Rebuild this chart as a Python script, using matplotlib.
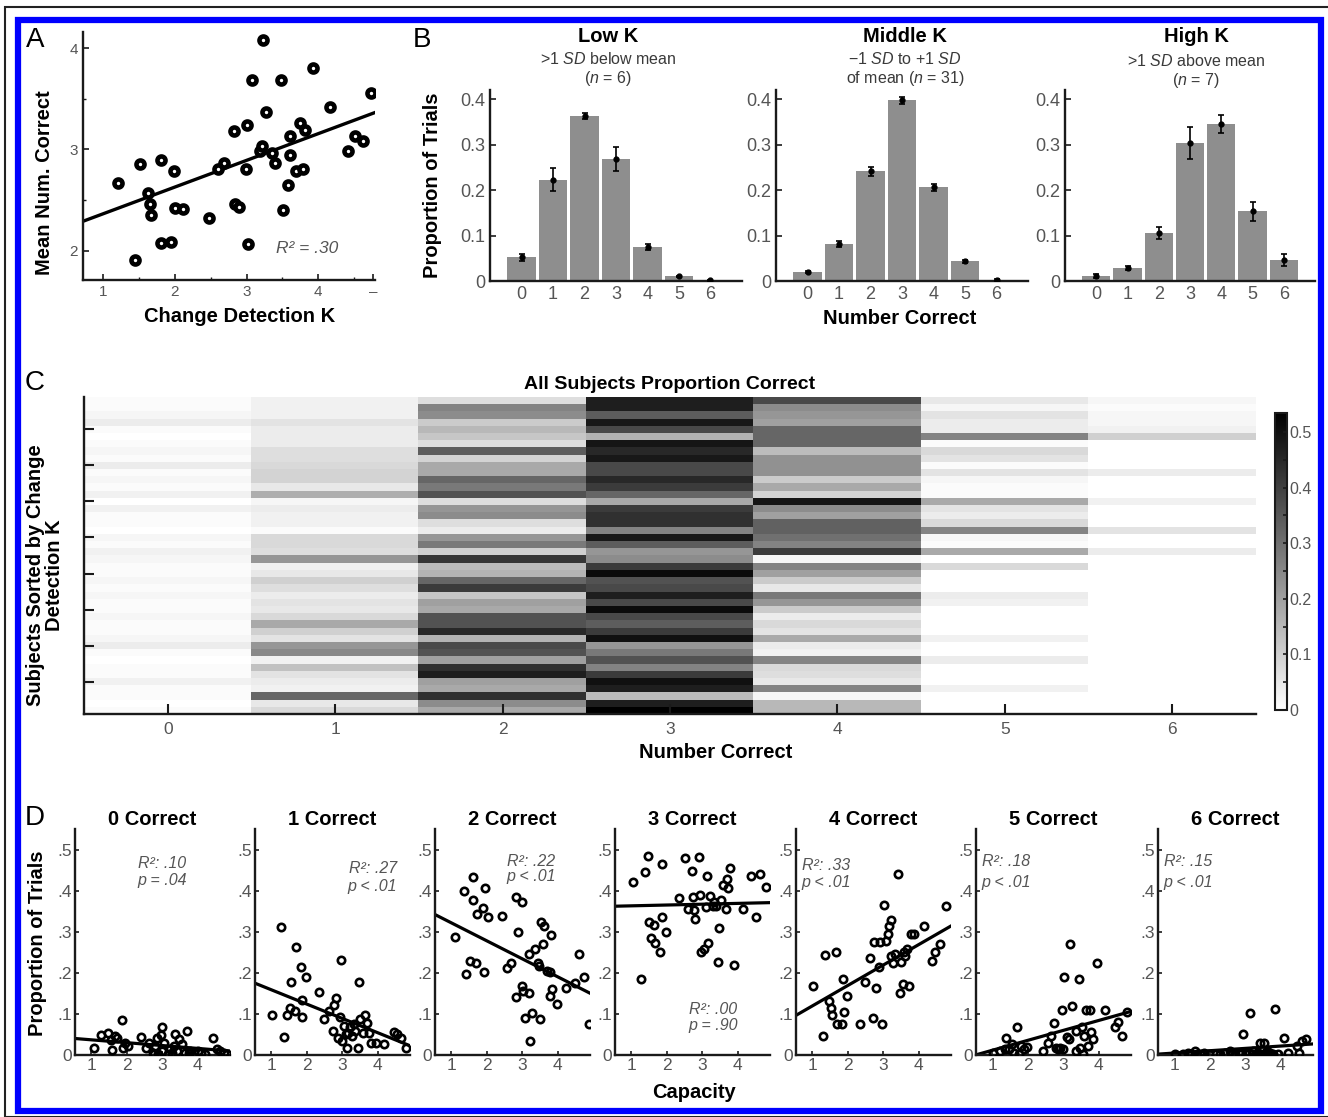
import numpy as np
import matplotlib
matplotlib.use('Agg')
import matplotlib.pyplot as plt
from matplotlib.patches import Rectangle
from matplotlib.ticker import MultipleLocator

# ---------------- data ----------------
# A: change detection K vs mean number correct
k_capacity = [1.21, 1.52, 1.44, 1.63, 1.65, 1.67, 1.81, 1.81, 1.95, 1.99, 2.00, 2.11, 2.47, 2.60, 2.68,
              2.82, 2.84, 2.89, 2.99, 3.00, 3.02, 3.07, 3.19, 3.21, 3.23, 3.27, 3.35, 3.40, 3.48, 3.51,
              3.58, 3.60, 3.60, 3.69, 3.74, 3.78, 3.81, 3.92, 4.16, 4.41, 4.51, 4.62, 4.74]
mean_correct = [2.67, 2.86, 1.91, 2.57, 2.46, 2.35, 2.90, 2.08, 2.09, 2.79, 2.42, 2.41, 2.32, 2.81, 2.87,
                3.18, 2.46, 2.43, 2.81, 3.24, 2.07, 3.69, 2.98, 3.03, 4.08, 3.37, 2.96, 2.87, 3.69, 2.40,
                2.65, 2.94, 3.13, 2.79, 3.26, 2.81, 3.19, 3.80, 3.42, 2.98, 3.13, 3.08, 3.56]
fit_a = (0.264, 2.10)

# B: proportion of trials per number correct, by K group
n_correct = [0, 1, 2, 3, 4, 5, 6]
low_mean = [0.052, 0.223, 0.363, 0.268, 0.075, 0.010, 0.002]
low_err = [0.007, 0.025, 0.007, 0.027, 0.007, 0.002, 0.001]
mid_mean = [0.020, 0.082, 0.241, 0.397, 0.206, 0.043, 0.003]
mid_err = [0.003, 0.007, 0.010, 0.007, 0.007, 0.004, 0.002]
high_mean = [0.011, 0.029, 0.106, 0.304, 0.346, 0.153, 0.047]
high_err = [0.004, 0.004, 0.013, 0.035, 0.020, 0.020, 0.013]

# C: per-subject proportions (rows sorted by K, high at top), one list per number correct
c0 = [0.01, 0.01, 0.02, 0.04, 0.01, 0.00, 0.01, 0.02, 0.01, 0.04, 0.01, 0.02, 0.01, 0.03, 0.00,
      0.03, 0.01, 0.01, 0.00, 0.02, 0.01, 0.03, 0.02, 0.01, 0.01, 0.02, 0.01, 0.02, 0.01, 0.01,
      0.02, 0.01, 0.01, 0.02, 0.04, 0.01, 0.00, 0.01, 0.01, 0.03, 0.01, 0.01, 0.00, 0.01]
c1 = [0.03, 0.03, 0.03, 0.06, 0.04, 0.04, 0.04, 0.07, 0.07, 0.08, 0.09, 0.09, 0.05, 0.17, 0.02,
      0.04, 0.03, 0.03, 0.01, 0.08, 0.08, 0.07, 0.22, 0.03, 0.05, 0.10, 0.07, 0.04, 0.06, 0.05,
      0.08, 0.18, 0.10, 0.06, 0.22, 0.25, 0.03, 0.13, 0.06, 0.04, 0.03, 0.32, 0.05, 0.08]
c2 = [0.07, 0.26, 0.24, 0.11, 0.15, 0.12, 0.07, 0.34, 0.09, 0.18, 0.18, 0.32, 0.28, 0.36, 0.07,
      0.22, 0.24, 0.07, 0.04, 0.22, 0.28, 0.10, 0.42, 0.14, 0.16, 0.32, 0.41, 0.12, 0.20, 0.18,
      0.36, 0.36, 0.45, 0.16, 0.38, 0.36, 0.20, 0.43, 0.47, 0.20, 0.18, 0.43, 0.24, 0.18]
c3 = [0.47, 0.47, 0.34, 0.48, 0.38, 0.16, 0.49, 0.45, 0.48, 0.38, 0.38, 0.45, 0.41, 0.32, 0.18,
      0.41, 0.43, 0.43, 0.26, 0.48, 0.34, 0.22, 0.24, 0.41, 0.51, 0.36, 0.38, 0.47, 0.38, 0.51,
      0.38, 0.34, 0.41, 0.50, 0.22, 0.28, 0.36, 0.26, 0.41, 0.50, 0.47, 0.14, 0.47, 0.53]
c4 = [0.38, 0.24, 0.22, 0.20, 0.32, 0.32, 0.32, 0.14, 0.23, 0.23, 0.23, 0.11, 0.18, 0.09, 0.49,
      0.24, 0.20, 0.33, 0.33, 0.30, 0.26, 0.41, 0.02, 0.26, 0.20, 0.11, 0.05, 0.28, 0.22, 0.11,
      0.04, 0.08, 0.06, 0.18, 0.04, 0.03, 0.26, 0.08, 0.07, 0.05, 0.26, 0.02, 0.15, 0.15]
c5 = [0.05, 0.02, 0.06, 0.04, 0.04, 0.26, 0.01, 0.08, 0.06, 0.01, 0.06, 0.02, 0.01, 0.01, 0.18,
      0.06, 0.04, 0.08, 0.26, 0.02, 0.01, 0.18, 0.00, 0.08, 0.00, 0.00, 0.00, 0.04, 0.03, 0.00,
      0.00, 0.00, 0.00, 0.03, 0.00, 0.00, 0.04, 0.00, 0.00, 0.00, 0.03, 0.00, 0.00, 0.00]
c6 = [0.02, 0.01, 0.02, 0.02, 0.03, 0.10, 0.00, 0.00, 0.00, 0.00, 0.04, 0.00, 0.00, 0.00, 0.03,
      0.00, 0.00, 0.00, 0.06, 0.00, 0.00, 0.04, 0.00, 0.00, 0.00, 0.00, 0.00, 0.00, 0.00, 0.00,
      0.00, 0.00, 0.00, 0.00, 0.00, 0.00, 0.00, 0.00, 0.00, 0.00, 0.00, 0.00, 0.00, 0.00]

# D: capacity vs proportion of trials, one panel per number correct
d0_k = [1.08, 1.28, 1.49, 1.55, 1.58, 1.66, 1.74, 1.87, 1.89, 1.95, 2.05, 2.40, 2.53, 2.63, 2.74,
        2.79, 2.84, 2.95, 2.98, 3.00, 3.05, 3.16, 3.21, 3.32, 3.37, 3.42, 3.47, 3.56, 3.68, 3.74,
        3.79, 3.89, 4.00, 4.21, 4.42, 4.53, 4.63, 4.74, 4.82, 2.89, 2.76, 3.26, 3.63, 4.10]
d0_p = [0.018, 0.048, 0.054, 0.037, 0.012, 0.046, 0.042, 0.085, 0.018, 0.030, 0.022, 0.045, 0.018,
        0.030, 0.006, 0.022, 0.042, 0.048, 0.067, 0.010, 0.030, 0.002, 0.014, 0.022, 0.050, 0.010,
        0.038, 0.026, 0.059, 0.006, 0.010, 0.006, 0.010, 0.002, 0.042, 0.014, 0.010, 0.006, 0.002,
        0.002, 0.002, 0.006, 0.006, 0.006]
d1_k = [1.03, 1.28, 1.35, 1.46, 1.53, 1.56, 1.67, 1.70, 1.83, 1.86, 1.88, 1.97, 2.36, 2.50, 2.63,
        2.73, 2.76, 2.82, 2.89, 2.93, 2.95, 3.00, 3.05, 3.13, 3.16, 3.21, 3.27, 3.32, 3.37, 3.43,
        3.46, 3.51, 3.59, 3.64, 3.69, 3.75, 3.80, 3.94, 4.17, 4.44, 4.54, 4.65, 4.79, 3.09]
d1_p = [0.097, 0.311, 0.045, 0.097, 0.115, 0.178, 0.107, 0.264, 0.213, 0.093, 0.134, 0.189, 0.154,
        0.087, 0.107, 0.059, 0.121, 0.138, 0.042, 0.093, 0.232, 0.034, 0.071, 0.018, 0.054, 0.067,
        0.046, 0.075, 0.059, 0.018, 0.178, 0.087, 0.054, 0.097, 0.079, 0.054, 0.030, 0.030, 0.026,
        0.056, 0.050, 0.042, 0.018, 0.050]
d2_k = [1.11, 1.36, 1.43, 1.53, 1.61, 1.63, 1.71, 1.74, 1.89, 1.92, 1.95, 2.03, 2.42, 2.56, 2.67,
        2.81, 2.83, 2.88, 2.98, 2.98, 3.02, 3.07, 3.18, 3.20, 3.23, 3.28, 3.36, 3.44, 3.49, 3.52,
        3.57, 3.60, 3.68, 3.77, 3.79, 3.81, 3.84, 3.98, 4.23, 4.48, 4.59, 4.73, 4.86, 3.46]
d2_p = [0.286, 0.398, 0.197, 0.229, 0.434, 0.378, 0.225, 0.343, 0.357, 0.201, 0.406, 0.335, 0.339,
        0.211, 0.224, 0.140, 0.384, 0.300, 0.372, 0.168, 0.156, 0.091, 0.246, 0.152, 0.034, 0.103,
        0.259, 0.225, 0.087, 0.323, 0.270, 0.313, 0.205, 0.202, 0.144, 0.292, 0.160, 0.125, 0.164,
        0.176, 0.246, 0.191, 0.075, 0.217]
d3_k = [1.05, 1.29, 1.38, 1.49, 1.51, 1.55, 1.64, 1.68, 1.82, 1.86, 1.88, 1.97, 2.34, 2.51, 2.61,
        2.71, 2.74, 2.80, 2.91, 2.94, 2.96, 3.04, 3.11, 3.13, 3.17, 3.22, 3.33, 3.39, 3.43, 3.46,
        3.53, 3.59, 3.66, 3.70, 3.72, 3.79, 3.89, 4.14, 4.38, 4.51, 4.62, 4.78, 3.30, 2.78]
d3_p = [0.422, 0.185, 0.446, 0.484, 0.323, 0.284, 0.316, 0.272, 0.251, 0.465, 0.335, 0.300, 0.381,
        0.480, 0.355, 0.449, 0.384, 0.331, 0.481, 0.389, 0.251, 0.259, 0.359, 0.435, 0.272, 0.386,
        0.373, 0.362, 0.227, 0.308, 0.376, 0.414, 0.355, 0.428, 0.406, 0.454, 0.219, 0.355, 0.435,
        0.337, 0.441, 0.408, 0.363, 0.354]
d4_k = [1.04, 1.30, 1.37, 1.47, 1.53, 1.57, 1.67, 1.70, 1.83, 1.86, 1.89, 1.99, 2.36, 2.49, 2.62,
        2.71, 2.75, 2.79, 2.88, 2.92, 2.95, 3.01, 3.08, 3.14, 3.17, 3.21, 3.28, 3.32, 3.41, 3.47,
        3.51, 3.54, 3.58, 3.67, 3.71, 3.78, 3.87, 4.13, 4.38, 4.45, 4.58, 4.75, 3.61, 3.21]
d4_p = [0.168, 0.046, 0.243, 0.132, 0.115, 0.097, 0.251, 0.075, 0.075, 0.185, 0.105, 0.144, 0.075,
        0.178, 0.235, 0.089, 0.276, 0.162, 0.215, 0.276, 0.075, 0.365, 0.278, 0.294, 0.315, 0.329,
        0.225, 0.246, 0.441, 0.152, 0.227, 0.172, 0.250, 0.258, 0.167, 0.294, 0.294, 0.313, 0.229,
        0.250, 0.270, 0.362, 0.241, 0.241]
d5_k = [1.03, 1.22, 1.36, 1.40, 1.49, 1.55, 1.62, 1.69, 1.75, 1.82, 1.89, 1.98, 2.42, 2.56, 2.65,
        2.73, 2.79, 2.86, 2.91, 2.95, 2.99, 3.02, 3.09, 3.15, 3.19, 3.25, 3.35, 3.44, 3.48, 3.52,
        3.55, 3.59, 3.65, 3.75, 3.79, 3.84, 3.94, 4.18, 4.44, 4.53, 4.66, 4.79, 3.35, 3.68]
d5_p = [0.006, 0.010, 0.015, 0.042, 0.014, 0.026, 0.006, 0.069, 0.002, 0.022, 0.014, 0.020, 0.010,
        0.030, 0.046, 0.079, 0.018, 0.015, 0.018, 0.110, 0.014, 0.189, 0.045, 0.038, 0.270, 0.120,
        0.059, 0.186, 0.018, 0.067, 0.002, 0.046, 0.110, 0.110, 0.056, 0.038, 0.224, 0.110, 0.067,
        0.081, 0.046, 0.105, 0.010, 0.022]
d6_k = [1.04, 1.26, 1.39, 1.48, 1.58, 1.65, 1.74, 1.84, 1.97, 2.30, 2.43, 2.56, 2.62, 2.81, 2.88,
        2.94, 3.03, 3.09, 3.13, 3.18, 3.22, 3.29, 3.35, 3.42, 3.45, 3.52, 3.55, 3.61, 3.65, 3.70,
        3.83, 3.91, 4.09, 4.45, 4.52, 4.58, 4.71, 3.03, 3.58, 2.70, 2.17, 1.45, 3.78, 4.19]
d6_p = [0.002, 0.002, 0.006, 0.002, 0.010, 0.002, 0.002, 0.004, 0.002, 0.002, 0.006, 0.010, 0.002,
        0.006, 0.002, 0.050, 0.002, 0.006, 0.103, 0.002, 0.010, 0.002, 0.006, 0.030, 0.002, 0.030,
        0.002, 0.010, 0.002, 0.006, 0.111, 0.002, 0.042, 0.022, 0.006, 0.034, 0.038, 0.006, 0.006,
        0.002, 0.002, 0.002, 0.002, 0.006]
d_fits = [(-0.007, 0.044), (-0.035, 0.194), (-0.044, 0.366), (0.002, 0.361),
          (0.050, 0.069), (0.0243, -0.013), (0.0057, -0.001)]
d_r2 = ['.10', '.27', '.22', '.00', '.33', '.18', '.15']
d_p = ['p = .04', 'p < .01', 'p < .01', 'p = .90', 'p < .01', 'p < .01', 'p < .01']

# ---------------- style ----------------
W, H = 1328, 1117
plt.rcParams['font.family'] = ['Liberation Sans', 'DejaVu Sans']
plt.rcParams['mathtext.fontset'] = 'custom'
plt.rcParams['mathtext.rm'] = 'Liberation Sans'
plt.rcParams['mathtext.it'] = 'Liberation Sans:italic'
plt.rcParams['mathtext.bf'] = 'Liberation Sans:bold'
plt.rcParams['axes.linewidth'] = 1.7
plt.rcParams['axes.edgecolor'] = '#1a1a1a'
plt.rcParams['xtick.direction'] = 'in'
plt.rcParams['ytick.direction'] = 'in'
plt.rcParams['xtick.color'] = '#1a1a1a'
plt.rcParams['ytick.color'] = '#1a1a1a'
plt.rcParams['xtick.labelcolor'] = '#555555'
plt.rcParams['ytick.labelcolor'] = '#555555'

fig = plt.figure(figsize=(W / 100, H / 100), dpi=100)


def box(l, t, r, b):
    return [l / W, 1 - b / H, (r - l) / W, (b - t) / H]


def ftext(x, y, s, **kw):
    fig.text(x / W, 1 - y / H, s, ha=kw.pop('ha', 'center'), va=kw.pop('va', 'center'), **kw)


def clean(ax, size=12):
    for s in ('top', 'right'):
        ax.spines[s].set_visible(False)
    ax.tick_params(labelsize=size, length=4, width=1.2)


# frame
fig.add_artist(Rectangle((5 / W, 0), 1.2, 1 - 7 / H, transform=fig.transFigure,
                         fill=False, ec='#222222', lw=1.5))
fig.add_artist(Rectangle((17.5 / W, 1 - 1110.5 / H), 1303 / W, 1091 / H, transform=fig.transFigure,
                         fill=False, ec='#0000ff', lw=4.5))

# ---------------- A ----------------
ax = fig.add_axes(box(83, 32, 375, 280))
clean(ax, 11)
ax.plot(k_capacity, mean_correct, 'o', ms=5.8, mfc='white', mec='black', mew=3.3, zorder=3)
xx = np.array([0.72, 4.79])
ax.plot(xx, fit_a[0] * xx + fit_a[1], color='black', lw=2.4)
ax.set_xlim(0.72, 4.79)
ax.set_ylim(1.71, 4.16)
ax.set_xticks([1, 2, 3, 4, 4.76])
ax.set_xticklabels(['1', '2', '3', '4', '–'])
ax.set_yticks([2, 3, 4])
ax.xaxis.set_minor_locator(MultipleLocator(0.5))
ax.yaxis.set_minor_locator(MultipleLocator(0.5))
ax.tick_params(which='minor', length=2.5, width=1)
ax.text(3.85, 2.02, 'R² = .30', fontsize=12.5, style='italic', color='#555555', ha='center', va='center')
ftext(45, 183, 'Mean Num. Correct', rotation=90, fontsize=14.5, fontweight='bold')
ftext(240, 316, 'Change Detection K', fontsize=14.5, fontweight='bold')
ftext(35, 40, 'A', fontsize=20)

# ---------------- B ----------------
groups = [(490, 742, low_mean, low_err, 'Low K', r'>1 $\mathit{SD}$ below mean', r'($\mathit{n}$ = 6)', 608),
          (776, 1028, mid_mean, mid_err, 'Middle K', r'−1 $\mathit{SD}$ to +1 $\mathit{SD}$',
           r'of mean ($\mathit{n}$ = 31)', 905),
          (1065, 1315, high_mean, high_err, 'High K', r'>1 $\mathit{SD}$ above mean', r'($\mathit{n}$ = 7)', 1196)]
for i, (l, r, m, e, t1, t2, t3, cx) in enumerate(groups):
    ax = fig.add_axes(box(l, 90, r, 281))
    clean(ax, 13)
    ax.bar(n_correct, m, width=0.9, color='#8e8e8e', zorder=1)
    ax.errorbar(n_correct, m, yerr=e, fmt='o', color='black', ms=3.5, capsize=2.5,
                elinewidth=1.2, capthick=1.2, zorder=3)
    ax.set_xlim(-1, 7)
    ax.set_ylim(0, 0.42)
    ax.set_xticks(n_correct)
    ax.set_yticks([0, 0.1, 0.2, 0.3, 0.4])
    ax.set_yticklabels(['0', '0.1', '0.2', '0.3', '0.4'])
    ax.tick_params(axis='x', length=0)
    ftext(cx, 36, t1, fontsize=14.5, fontweight='bold')
    ftext(cx, 59 if i < 2 else 61, t2, fontsize=11.5, color='#3a3a3a')
    ftext(cx, 78 if i < 2 else 81, t3, fontsize=11.5, color='#3a3a3a')
ftext(432, 185, 'Proportion of Trials', rotation=90, fontsize=14.5, fontweight='bold')
ftext(900, 319, 'Number Correct', fontsize=14.5, fontweight='bold')
ftext(422, 40, 'B', fontsize=20)

# ---------------- C ----------------
heat = np.column_stack([c0, c1, c2, c3, c4, c5, c6])
nsub = heat.shape[0]
ax = fig.add_axes(box(84, 397, 1256, 714))
for s in ('top', 'right'):
    ax.spines[s].set_visible(False)
im = ax.imshow(heat, cmap='gray_r', vmin=0, vmax=0.534, aspect='auto', interpolation='nearest',
               extent=(-0.5, 6.5, nsub + 0.5, 0.5))
ax.set_xlim(-0.5, 6.5)
ax.set_ylim(nsub + 0.5, 0.5)
ax.set_xticks(n_correct)
ax.set_yticks(np.arange(5, nsub, 5))
ax.set_yticklabels([])
ax.tick_params(axis='x', labelsize=12.5, length=7, width=1.5, pad=6)
ax.tick_params(axis='y', length=7, width=1.5)
ax.set_title('All Subjects Proportion Correct', fontsize=14, fontweight='bold', pad=6)
ftext(716, 752, 'Number Correct', fontsize=14.5, fontweight='bold')
ftext(45, 575, 'Subjects Sorted by Change\nDetection K', rotation=90, fontsize=14.5,
      fontweight='bold', linespacing=1.05)
ftext(35, 383, 'C', fontsize=20)

cax = fig.add_axes(box(1275, 413, 1287, 710))
cb = fig.colorbar(im, cax=cax)
cb.set_ticks([0, 0.1, 0.2, 0.3, 0.4, 0.5])
cb.set_ticklabels(['0', '0.1', '0.2', '0.3', '0.4', '0.5'])
cb.outline.set_linewidth(1.5)
cax.yaxis.set_minor_locator(MultipleLocator(0.05))
cax.tick_params(which='both', direction='in', labelsize=11.5, length=3, width=1.2, pad=2)

# ---------------- D ----------------
d_k = [d0_k, d1_k, d2_k, d3_k, d4_k, d5_k, d6_k]
d_pr = [d0_p, d1_p, d2_p, d3_p, d4_p, d5_p, d6_p]
d_left = [75, 255, 435, 615, 796, 976, 1158]
stat_pos = [(3.0, 0.465, 0.425), (3.85, 0.455, 0.41), (3.25, 0.47, 0.435), (3.3, 0.11, 0.072),
            (1.4, 0.46, 0.42), (1.4, 0.47, 0.42), (1.4, 0.47, 0.42)]
for i in range(7):
    l = d_left[i]
    ax = fig.add_axes(box(l, 829, l + 155, 1055))
    clean(ax, 12.5)
    ax.plot(d_k[i], d_pr[i], 'o', ms=5.3, mfc='none', mec='black', mew=1.9, zorder=3)
    xx = np.array([0.55, 4.88])
    ax.plot(xx, d_fits[i][0] * xx + d_fits[i][1], color='black', lw=2.3)
    ax.set_xlim(0.55, 4.9)
    ax.set_ylim(0, 0.55)
    ax.set_xticks([1, 2, 3, 4])
    ax.set_yticks([0, 0.1, 0.2, 0.3, 0.4, 0.5])
    ax.set_yticklabels(['0', '.1', '.2', '.3', '.4', '.5'])
    ax.tick_params(length=3, pad=2)
    ax.set_title(f'{i} Correct', fontsize=14.5, fontweight='bold', pad=3)
    sx, sy1, sy2 = stat_pos[i]
    ax.text(sx, sy1, 'R²: ' + d_r2[i], fontsize=11.5, style='italic', color='#555555', ha='center', va='center')
    ax.text(sx, sy2, d_p[i], fontsize=11.5, style='italic', color='#555555', ha='center', va='center')
ftext(38, 943, 'Proportion of Trials', rotation=90, fontsize=14.5, fontweight='bold')
ftext(694, 1093, 'Capacity', fontsize=14.5, fontweight='bold')
ftext(35, 818, 'D', fontsize=20)

fig.savefig('out.png', dpi=100)
